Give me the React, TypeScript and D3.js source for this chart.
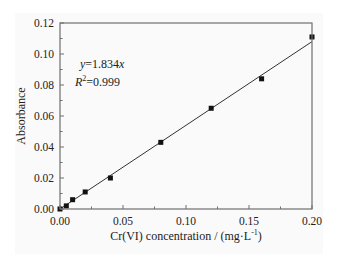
import React from "react";
import * as d3 from "d3";

const concentrations = [0, 0.005, 0.01, 0.02, 0.04, 0.08, 0.12, 0.16, 0.2];
const absorbances = [0.0, 0.002, 0.006, 0.011, 0.02, 0.043, 0.065, 0.084, 0.111];
const fitLineX = [0, 0.2];
const fitLineY = [0, 0.108];
const xTicks = [0, 0.05, 0.1, 0.15, 0.2];
const xMinorTicks = [0.025, 0.075, 0.125, 0.175];
const yTicks = [0, 0.02, 0.04, 0.06, 0.08, 0.1, 0.12];
const yMinorTicks = [0.01, 0.03, 0.05, 0.07, 0.09, 0.11];

const W = 357, H = 254;
const M = { left: 60, right: 312, top: 23, bottom: 209 };
const FONT = "'Liberation Serif', 'Times New Roman', serif";

export default function App() {
  const x = d3.scaleLinear().domain([0, 0.2]).range([M.left, M.right]);
  const y = d3.scaleLinear().domain([0, 0.12]).range([M.bottom, M.top]);
  const axisColor = "#6f6f6f";
  const line = d3.line<number>().x((d, i) => x(fitLineX[i])).y((d) => y(d));
  return (
    <svg width={W} height={H} style={{ position: "absolute", left: 0, top: 0, background: "#fff" }} fontFamily={FONT}>
      <rect x={15} y={13} width={308} height={243} fill="#fafafa" />
      <path d={line(fitLineY) || ""} stroke="#333" strokeWidth={1} fill="none" />
      {concentrations.map((c, i) => (
        <rect key={i} x={x(c) - 2.5} y={y(absorbances[i]) - 2.5} width={5} height={5} fill="#111" />
      ))}
      <rect x={M.left} y={M.top} width={M.right - M.left} height={M.bottom - M.top} fill="none" stroke={axisColor} strokeWidth={1.2} />
      {xTicks.map((t) => (
        <g key={"x" + t}>
          <line x1={x(t)} x2={x(t)} y1={M.bottom} y2={M.bottom - 4} stroke={axisColor} />
          <text x={x(t)} y={M.bottom + 16} textAnchor="middle" fontSize={11.5} fill="#222">{t.toFixed(2)}</text>
        </g>
      ))}
      {xMinorTicks.map((t) => (
        <line key={"xm" + t} x1={x(t)} x2={x(t)} y1={M.bottom} y2={M.bottom - 2.5} stroke={axisColor} />
      ))}
      {yTicks.map((t) => (
        <g key={"y" + t}>
          <line x1={M.left} x2={M.left + 4} y1={y(t)} y2={y(t)} stroke={axisColor} />
          <text x={M.left - 6} y={y(t) + 4} textAnchor="end" fontSize={11.5} fill="#222">{t.toFixed(2)}</text>
        </g>
      ))}
      {yMinorTicks.map((t) => (
        <line key={"ym" + t} x1={M.left} x2={M.left + 2.5} y1={y(t)} y2={y(t)} stroke={axisColor} />
      ))}
      <text x={80} y={68} fontSize={12} fill="#222">
        <tspan fontStyle="italic">y</tspan>=1.834<tspan fontStyle="italic">x</tspan>
      </text>
      <text x={75} y={86} fontSize={12} fill="#222">
        <tspan fontStyle="italic">R</tspan><tspan fontSize={8} dy={-5}>2</tspan><tspan dy={5}>=0.999</tspan>
      </text>
      <text transform={`translate(25,${(M.top + M.bottom) / 2}) rotate(-90)`} textAnchor="middle" fontSize={12} fill="#222">Absorbance</text>
      <text x={(M.left + M.right) / 2} y={240} textAnchor="middle" fontSize={12} fill="#222">
        Cr(VI) concentration / (mg·L<tspan fontSize={8} dy={-5}>-1</tspan><tspan dy={5}>)</tspan>
      </text>
    </svg>
  );
}
